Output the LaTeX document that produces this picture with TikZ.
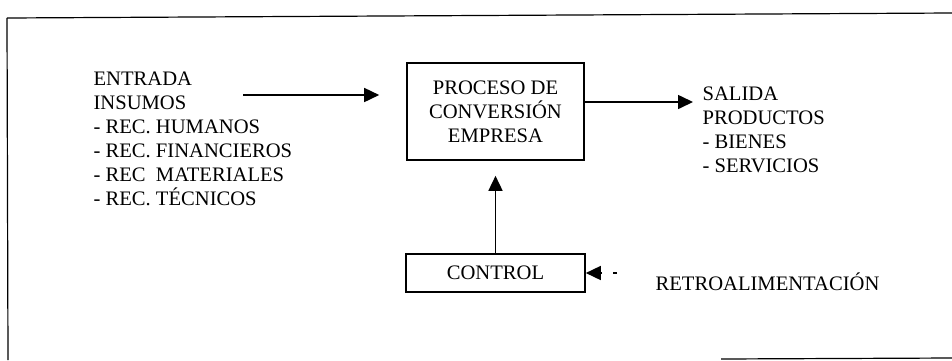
\documentclass[tikz,border=0pt]{standalone}
\usepackage{fontspec}
\setmainfont{Liberation Serif}
\usetikzlibrary{arrows.meta}
\tikzset{
  flecha/.style={thick,-{Triangle[length=7.5pt,width=7pt]}},
  caja/.style={draw,thick,inner sep=0pt,align=center},
  texto/.style={inner sep=0pt,align=left,anchor=north west}
}
\begin{document}
\begin{tikzpicture}[x=0.5pt,y=-0.5pt,semithick,font=\fontsize{10.3}{12}\selectfont]
      \useasboundingbox (0,0) rectangle (952,360);
      % marco
      \draw (7,18) -- (952,13);
      \draw (7,18) -- (8,360);
      \draw (721,359) -- (952,358);
      % cajas
      \path (495.5,111.5) node[caja,minimum width=88.5pt,minimum height=48.5pt] (proceso) {PROCESO DE\\CONVERSIÓN\\EMPRESA};
      \path (495.5,273) node[caja,minimum width=89.5pt,minimum height=19pt,text depth=-1pt] (control) {CONTROL};
      % textos
      \path (93,71) node[texto] (entrada) {ENTRADA\\INSUMOS\\- REC. HUMANOS\\- REC. FINANCIEROS\\- REC\ \ MATERIALES\\- REC. TÉCNICOS};
      \path (702,86) node[texto] (salida) {SALIDA\\PRODUCTOS\\- BIENES\\- SERVICIOS};
      \path (655,290) node[inner sep=0pt,anchor=base west] (retro) {RETROALIMENTACIÓN};
      \coordinate (ent) at (243,95);
      \coordinate (sal) at (693,102);
      \coordinate (fb) at (617,273);
      % flechas
      \draw[flecha,shorten >=13.5pt] (ent) -- (ent -| proceso.west);
      \draw[flecha] (sal -| proceso.east) -- (sal);
      \draw[flecha,shorten >=7.5pt] (control) -- (proceso);
      \draw[flecha,dash pattern=on 2pt off 5.5pt] (fb) -- (control.east);
\end{tikzpicture}
\end{document}
